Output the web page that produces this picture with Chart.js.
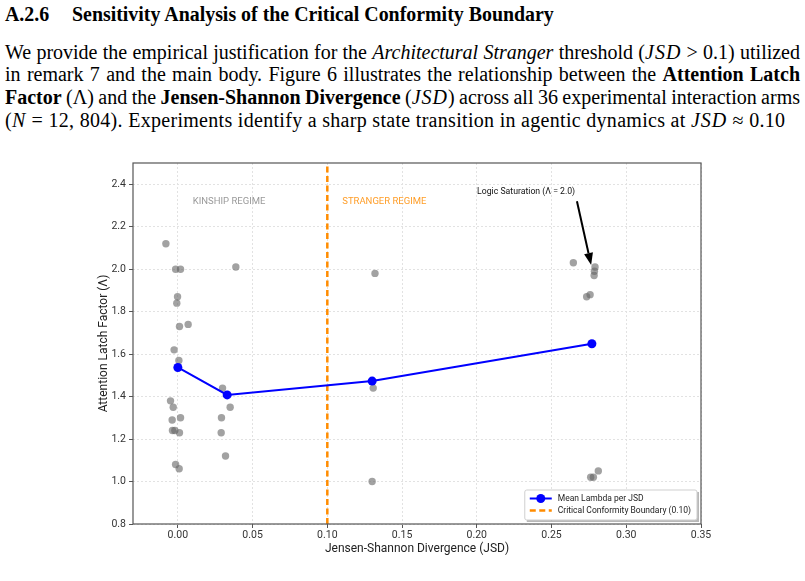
<!DOCTYPE html>
<html>
<head>
<meta charset="utf-8">
<script src="https://cdn.jsdelivr.net/npm/chart.js"></script>
<style>
    body { margin: 0; width: 805px; height: 581px; background: #fff; position: relative; overflow: hidden; }
    #paper { position: absolute; left: 5px; top: 0; width: 795px; font-family: "Liberation Serif", "Times New Roman", serif; color: #000; }
    .hd { position: absolute; top: 3px; left: 0; font-weight: bold; font-size: 19.9px; line-height: 22px; white-space: nowrap; }
    .hd .num { display: inline-block; width: 67px; }
    .ln { position: absolute; left: 0; width: 795px; font-size: 20px; line-height: 22.7px; white-space: nowrap; }
    .j { text-align: justify; text-align-last: justify; word-spacing: -1.5px; }
    .last { letter-spacing: 0.3px; }
    .m { font-style: italic; letter-spacing: 1px; }
    #chart { position: absolute; left: 0; top: 150px; }
</style>
</head>
<body>
<div id="paper">
    <div class="hd"><span class="num">A.2.6</span>Sensitivity Analysis of the Critical Conformity Boundary</div>
    <div class="ln j" style="top:40.5px">We provide the empirical justification for the <i>Architectural Stranger</i> threshold (<span class="m">JSD</span> &gt; 0.1) utilized</div>
    <div class="ln j" style="top:63px">in remark 7 and the main body. Figure 6 illustrates the relationship between the <b>Attention Latch</b></div>
    <div class="ln j" style="top:86px"><b>Factor</b> (Λ) and the <b>Jensen-Shannon Divergence</b> (<span class="m">JSD</span>) across all 36 experimental interaction arms</div>
    <div class="ln last" style="top:108.5px">(<span class="m">N</span> = 12, 804). Experiments identify a sharp state transition in agentic dynamics at <span class="m">JSD</span> ≈ 0.10</div>
</div>
<canvas id="chart" width="805" height="431"></canvas>
<script>
// ========================================
// Data
// ========================================
const xTicks = [0.00, 0.05, 0.10, 0.15, 0.20, 0.25, 0.30, 0.35];
const yTicks = [0.8, 1.0, 1.2, 1.4, 1.6, 1.8, 2.0, 2.2, 2.4];

// one point per interaction arm (36 arms, jittered around each JSD level)
const armJsd = [
    -0.0080, -0.0015, 0.0018, -0.0002, -0.0007, 0.0011, 0.0069, -0.0025, 0.0007,
    -0.0049, -0.0031, -0.0038, 0.0018, -0.0036, -0.0020, 0.0011, -0.0015, 0.0009,
    0.0299, 0.0388, 0.0350, 0.0292, 0.0290, 0.0319,
    0.1319, 0.1307, 0.1300,
    0.2646, 0.2791, 0.2787, 0.2785, 0.2758, 0.2735, 0.2762, 0.2780, 0.2813
];
const armLambda = [
    2.12, 2.00, 2.00, 1.87, 1.84, 1.73, 1.74, 1.62, 1.57,
    1.38, 1.35, 1.29, 1.30, 1.24, 1.24, 1.23, 1.08, 1.06,
    1.44, 2.01, 1.35, 1.30, 1.23, 1.12,
    1.98, 1.44, 1.00,
    2.03, 2.01, 1.99, 1.97, 1.88, 1.87, 1.02, 1.02, 1.05
];

// mean lambda per JSD level
const meanJsd = [0.000, 0.033, 0.130, 0.277];
const meanLambda = [1.537, 1.408, 1.473, 1.649];

const boundaryJsd = 0.10;
const xRange = [-0.03, 0.35];
const yRange = [0.8, 2.5];
const seriesLabels = ['Mean Lambda per JSD', 'Critical Conformity Boundary (0.10)'];

// ========================================
// Styles
// ========================================
const FONT = 'Roboto, "Open Sans", sans-serif';
const BLUE = '#0000ff';
const ORANGE = '#ff8c00';
const SPINE = '#555';

const notes = {
    kinship: { x: 0.010, y: 2.32, text: 'KINSHIP REGIME', color: '#9a9a9a' },
    stranger: { x: 0.110, y: 2.32, text: 'STRANGER REGIME', color: 'rgba(255,140,0,0.85)' },
    saturation: { x: 0.233, y: 2.365, text: 'Logic Saturation (Λ = 2.0)', from: [0.267, 2.32], to: [0.2765, 2.02] }
};

// ========================================
// Extra drawing: notes, arrow, frame, legend
// ========================================
const figureExtras = {
    id: 'figureExtras',
    afterDatasetsDraw(chart) {
        const { ctx, scales: { x, y } } = chart;
        ctx.save();
        ctx.textBaseline = 'middle';
        ctx.textAlign = 'left';
        ctx.font = '9.5px ' + FONT;
        [notes.kinship, notes.stranger].forEach(n => {
            ctx.fillStyle = n.color;
            ctx.fillText(n.text, x.getPixelForValue(n.x), y.getPixelForValue(n.y));
        });

        const s = notes.saturation;
        ctx.font = '8.7px ' + FONT;
        ctx.fillStyle = '#111';
        ctx.textAlign = 'center';
        ctx.fillText(s.text, x.getPixelForValue(s.x), y.getPixelForValue(s.y));

        // arrow
        const x0 = x.getPixelForValue(s.from[0]), y0 = y.getPixelForValue(s.from[1]);
        const x1 = x.getPixelForValue(s.to[0]), y1 = y.getPixelForValue(s.to[1]);
        const ang = Math.atan2(y1 - y0, x1 - x0);
        const headLen = 12, headW = 4.5;
        const bx = x1 - headLen * Math.cos(ang), by = y1 - headLen * Math.sin(ang);
        ctx.strokeStyle = '#000';
        ctx.lineWidth = 2;
        ctx.beginPath();
        ctx.moveTo(x0, y0);
        ctx.lineTo(bx, by);
        ctx.stroke();
        ctx.fillStyle = '#000';
        ctx.beginPath();
        ctx.moveTo(x1, y1);
        ctx.lineTo(bx + headW * Math.sin(ang), by - headW * Math.cos(ang));
        ctx.lineTo(bx - headW * Math.sin(ang), by + headW * Math.cos(ang));
        ctx.closePath();
        ctx.fill();
        ctx.restore();
    },
    afterDraw(chart) {
        const { ctx, chartArea: a } = chart;
        ctx.save();
        // frame
        ctx.strokeStyle = SPINE;
        ctx.lineWidth = 1.2;
        ctx.strokeRect(a.left, a.top, a.right - a.left, a.bottom - a.top);

        // legend box (lower right)
        ctx.font = '8.5px ' + FONT;
        const textW = Math.max(...seriesLabels.map(t => ctx.measureText(t).width));
        const w = 5 + 22 + 6 + textW + 6, h = 30;
        const bx = a.right - 4 - w, by = a.bottom - 4 - h;
        ctx.fillStyle = 'rgba(0,0,0,0.28)';
        ctx.fillRect(bx + 2, by + 2, w, h);
        ctx.fillStyle = '#fff';
        ctx.strokeStyle = '#cfcfcf';
        ctx.lineWidth = 1;
        ctx.beginPath();
        ctx.roundRect(bx, by, w, h, 2);
        ctx.fill();
        ctx.stroke();

        const row1 = by + 8.5, row2 = by + 20.5;
        const lx = bx + 5;
        ctx.strokeStyle = BLUE;
        ctx.lineWidth = 2;
        ctx.beginPath();
        ctx.moveTo(lx, row1);
        ctx.lineTo(lx + 22, row1);
        ctx.stroke();
        ctx.fillStyle = BLUE;
        ctx.beginPath();
        ctx.arc(lx + 11, row1, 4.5, 0, Math.PI * 2);
        ctx.fill();

        ctx.strokeStyle = ORANGE;
        ctx.lineWidth = 2.5;
        ctx.setLineDash([6, 3.5]);
        ctx.beginPath();
        ctx.moveTo(lx, row2);
        ctx.lineTo(lx + 22, row2);
        ctx.stroke();
        ctx.setLineDash([]);

        ctx.fillStyle = '#222';
        ctx.textAlign = 'left';
        ctx.textBaseline = 'middle';
        ctx.fillText(seriesLabels[0], lx + 28, row1);
        ctx.fillText(seriesLabels[1], lx + 28, row2);
        ctx.restore();
    }
};

// ========================================
// Chart
// ========================================
function axisOptions(tickValues, digits, range, title, tickPad) {
    return {
        type: 'linear',
        min: range[0],
        max: range[1],
        afterBuildTicks: scale => { scale.ticks = tickValues.map(v => ({ value: v })); },
        ticks: {
            callback: v => v.toFixed(digits),
            font: { family: FONT, size: 10.5 },
            color: '#333',
            padding: tickPad,
            autoSkip: false,
            maxRotation: 0
        },
        grid: { color: '#e2e2e2', tickColor: SPINE, tickLength: 4, tickBorderDash: [] },
        border: { display: false, dash: [2, 2] },
        title: {
            display: true,
            text: title,
            font: { family: FONT, size: 12 },
            color: '#222',
            padding: { top: 4, bottom: 4 }
        }
    };
}

const xAxis = axisOptions(xTicks, 2, xRange, 'Jensen-Shannon Divergence (JSD)', 1);
xAxis.afterFit = scale => { scale.height = 36; };
const yAxis = axisOptions(yTicks, 1, yRange, 'Attention Latch Factor (Λ)', 3);
yAxis.afterFit = scale => { scale.width = 40; };

new Chart(document.getElementById('chart'), {
    type: 'scatter',
    data: {
        datasets: [
            {
                label: seriesLabels[0],
                data: meanJsd.map((v, i) => ({ x: v, y: meanLambda[i] })),
                showLine: true,
                borderColor: BLUE,
                backgroundColor: BLUE,
                borderWidth: 2,
                pointRadius: 4.5,
                pointBorderWidth: 0,
                order: 0
            },
            {
                label: 'Arms',
                data: armJsd.map((v, i) => ({ x: v, y: armLambda[i] })),
                backgroundColor: 'rgba(100,100,100,0.6)',
                pointRadius: 3.7,
                pointBorderWidth: 0,
                order: 1
            },
            {
                label: seriesLabels[1],
                data: [{ x: boundaryJsd, y: yRange[0] }, { x: boundaryJsd, y: yRange[1] }],
                showLine: true,
                borderColor: ORANGE,
                borderWidth: 2.5,
                borderDash: [6, 3.5],
                pointRadius: 0,
                order: 2
            }
        ]
    },
    options: {
        responsive: false,
        animation: false,
        layout: { padding: { left: 93, right: 104, top: 13, bottom: 21 } },
        plugins: { legend: { display: false }, tooltip: { enabled: false } },
        scales: { x: xAxis, y: yAxis }
    },
    plugins: [figureExtras]
});
</script>
</body>
</html>
